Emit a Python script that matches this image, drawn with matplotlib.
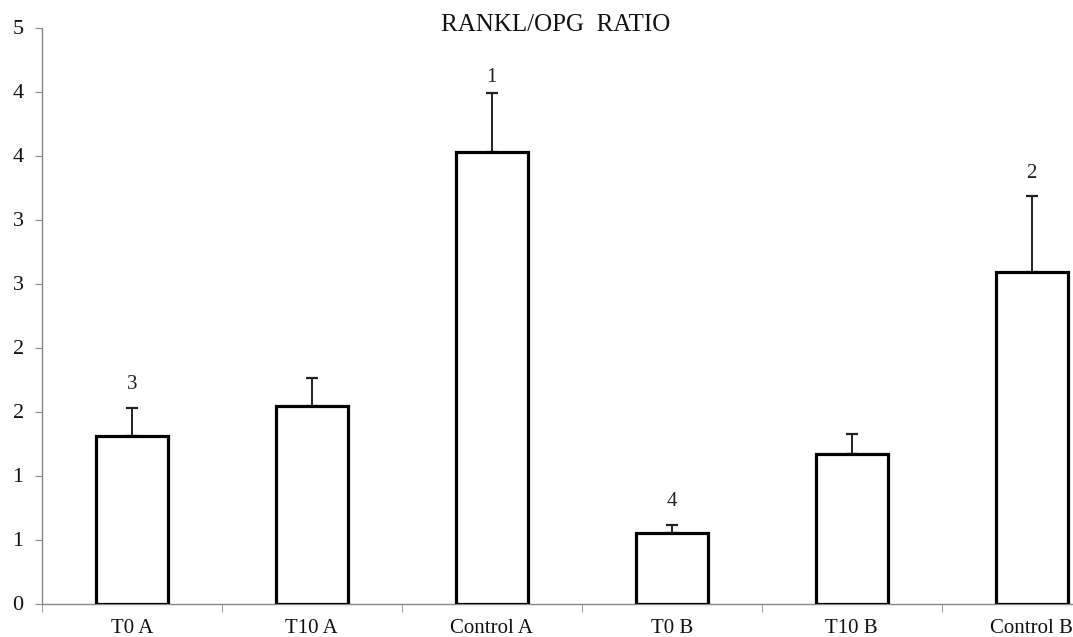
import numpy as np
from matplotlib import pyplot as plt
from matplotlib.ticker import FuncFormatter, FixedLocator

# dane
grupy = ['T0 A', 'T10 A', 'Control A', 'T0 B', 'T10 B', 'Control B']
srednie = [1.31, 1.54, 3.53, 0.55, 1.17, 2.59]
bledy = [0.22, 0.22, 0.46, 0.065, 0.155, 0.59]
oznaczenia = ['3', '', '1', '4', '', '2']
ticki_y = [0, 0.5, 1.0, 1.5, 2.0, 2.5, 3.0, 3.5, 4.0, 4.5]

plt.rcParams['font.family'] = ['Liberation Serif', 'DejaVu Serif']

W, H = 1073, 637
fig = plt.figure(figsize=(W / 100, H / 100), dpi=100)
# os wychodzi poza prawa krawedz obrazka (jak w oryginale)
x0, x1 = 41.7, 1121.7
y0, y1 = 603.5, 27.5
ax = fig.add_axes([x0 / W, (H - y0) / H, (x1 - x0) / W, (y0 - y1) / H])

x = np.arange(len(grupy))
ax.bar(x, srednie, width=0.4, color='white', edgecolor='black', linewidth=2.3, zorder=3)
ax.errorbar(x, srednie, yerr=[np.zeros(len(bledy)), bledy], fmt='none',
            ecolor='#222222', elinewidth=1.4, capsize=4, capthick=1.6, zorder=2)

# odstep oznaczen nad slupkiem bledu (w punktach)
odstepy = [10, 10, 4, 10, 10, 10]
for xi, s, b, o, d in zip(x, srednie, bledy, oznaczenia, odstepy):
    if o:
        ax.annotate(o, (xi, s + b), xytext=(0, d), textcoords='offset points',
                    ha='center', va='bottom', fontsize=15, color='#222222')

ax.set_xlim(-0.5, len(grupy) - 0.5)
ax.set_ylim(0, 4.5)
ax.set_xticks(x)
ax.set_xticklabels(grupy, fontsize=15, color='#111111')
ax.xaxis.set_minor_locator(FixedLocator(np.arange(-0.5, len(grupy), 1.0)))
ax.tick_params(axis='x', which='major', length=0, pad=11)
ax.tick_params(axis='x', which='minor', length=6, color='#888888', direction='out')

ax.set_yticks(ticki_y)
ax.yaxis.set_major_formatter(FuncFormatter(lambda v, p: str(int(np.floor(v + 0.5)))))
ax.tick_params(axis='y', length=5, color='#888888', labelsize=16, labelcolor='#111111', pad=8)

for s in ['top', 'right']:
    ax.spines[s].set_visible(False)
for s in ['left', 'bottom']:
    ax.spines[s].set_color('#888888')
    ax.spines[s].set_linewidth(1.0)

fig.text(556 / W, 1 - 25 / H, 'RANKL/OPG  RATIO', ha='center', va='center', fontsize=18, color='#111111')

fig.savefig('out.png', dpi=100)
